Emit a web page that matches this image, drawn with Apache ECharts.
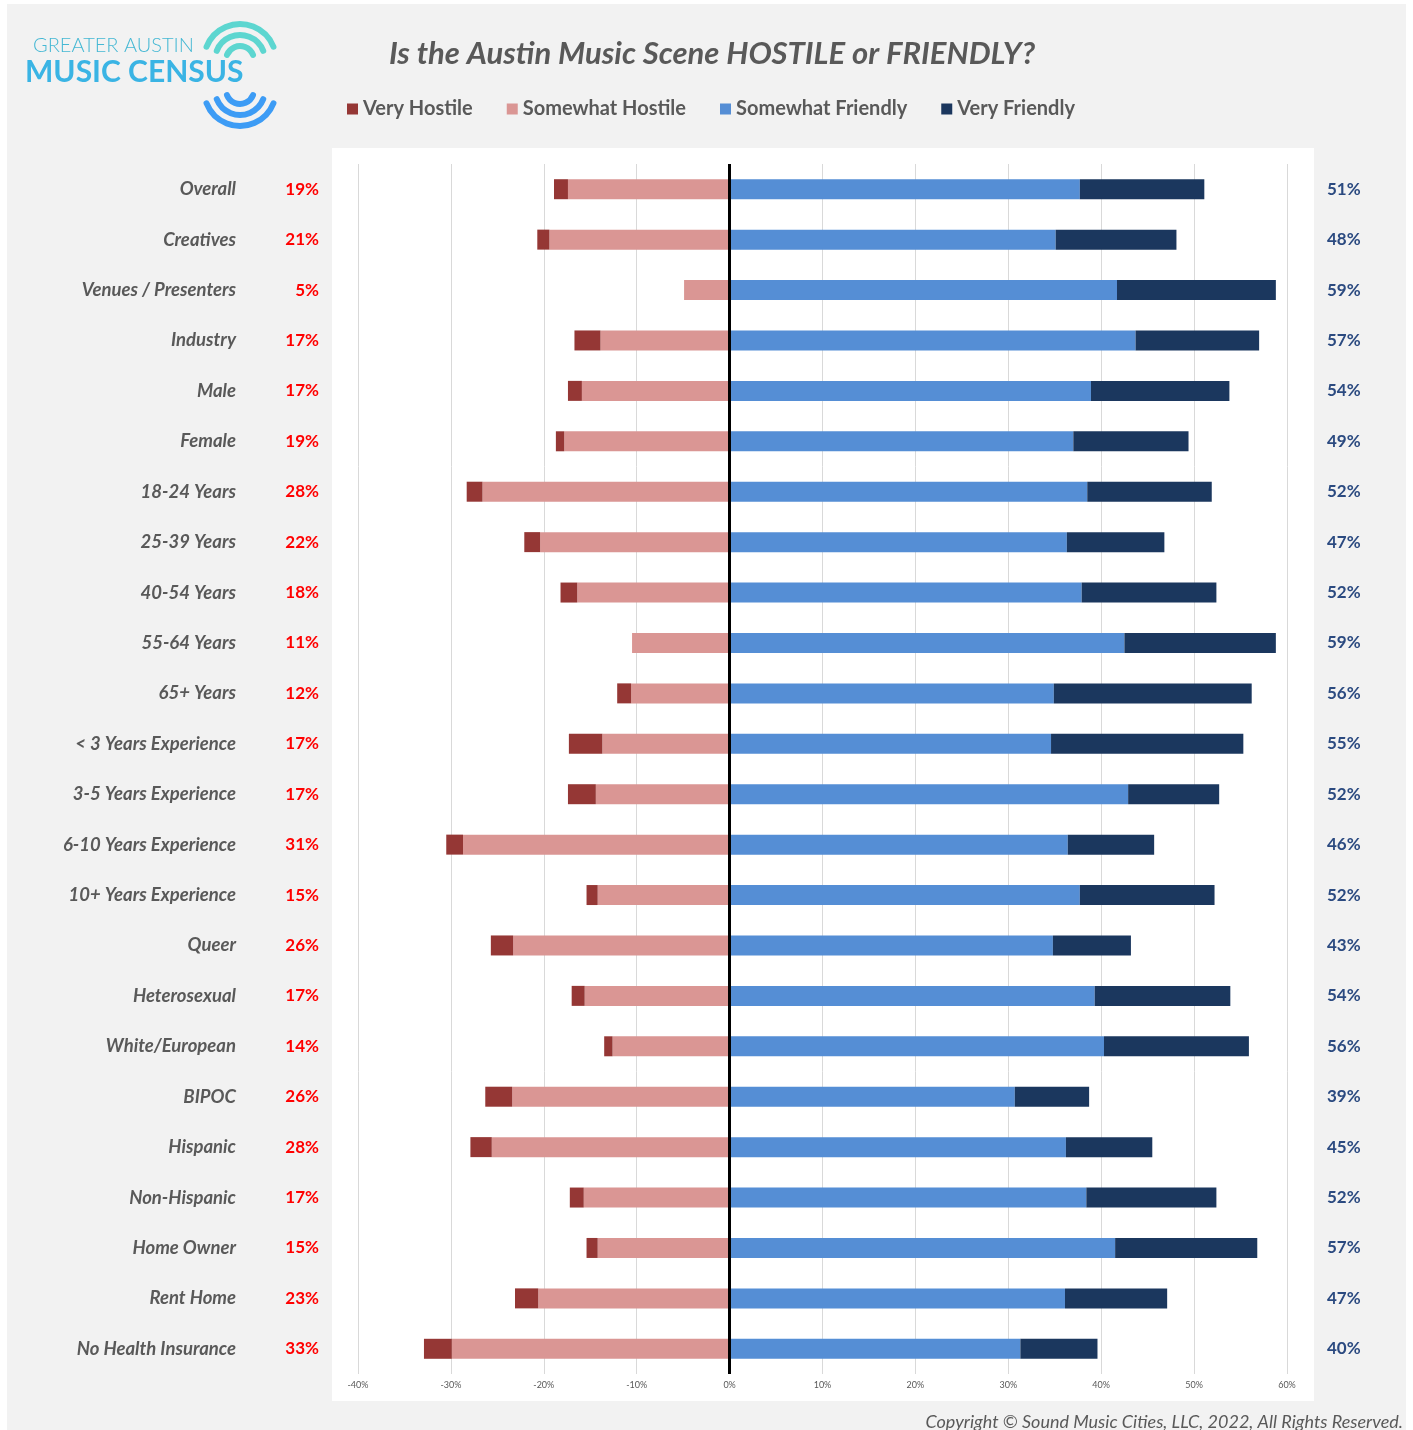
<!DOCTYPE html>
<html>
<head>
<meta charset="utf-8">
<script src="https://cdn.jsdelivr.net/npm/echarts@6/dist/echarts.min.js"></script>
<style>
  html, body { margin: 0; padding: 0; background: #fff; }
  #chart { width: 1413px; height: 1430px; }
</style>
</head>
<body>
<div id="chart"></div>
<script>
// 分类
const categories = ['Overall', 'Creatives', 'Venues / Presenters', 'Industry', 'Male', 'Female',
  '18-24 Years', '25-39 Years', '40-54 Years', '55-64 Years', '65+ Years',
  '< 3 Years Experience', '3-5 Years Experience', '6-10 Years Experience', '10+ Years Experience',
  'Queer', 'Heterosexual', 'White/European', 'BIPOC', 'Hispanic', 'Non-Hispanic',
  'Home Owner', 'Rent Home', 'No Health Insurance'];

// 各段百分比
const veryHostile = [1.5, 1.3, 0, 2.8, 1.5, 0.9, 1.7, 1.7, 1.8, 0, 1.5, 3.6, 3.0, 1.8, 1.2, 2.4, 1.4, 0.9, 2.9, 2.3, 1.5, 1.2, 2.5, 3.0];
const somewhatHostile = [17.4, 19.4, 4.9, 13.9, 15.9, 17.8, 26.6, 20.4, 16.4, 10.5, 10.6, 13.7, 14.4, 28.7, 14.2, 23.3, 15.6, 12.6, 23.4, 25.6, 15.7, 14.2, 20.6, 29.9];
const somewhatFriendly = [37.7, 35.1, 41.7, 43.7, 38.9, 37.0, 38.5, 36.3, 37.9, 42.5, 34.9, 34.6, 42.9, 36.4, 37.7, 34.8, 39.3, 40.3, 30.7, 36.2, 38.4, 41.5, 36.1, 31.3];
const veryFriendly = [13.4, 13.0, 17.1, 13.3, 14.9, 12.4, 13.4, 10.5, 14.5, 16.3, 21.3, 20.7, 9.8, 9.3, 14.5, 8.4, 14.6, 15.6, 8.0, 9.3, 14.0, 15.3, 11.0, 8.3];

// 两侧合计标签
const hostileTotal = [19, 21, 5, 17, 17, 19, 28, 22, 18, 11, 12, 17, 17, 31, 15, 26, 17, 14, 26, 28, 17, 15, 23, 33];
const friendlyTotal = [51, 48, 59, 57, 54, 49, 52, 47, 52, 59, 56, 55, 52, 46, 52, 43, 54, 56, 39, 45, 52, 57, 47, 40];

const xTicks = { min: -40, max: 60, interval: 10 };

const FONT = 'Lato, "Open Sans", sans-serif';
const GREY = '#595959';

let chart = echarts.init(document.getElementById('chart'));

// logo 的弧线
function arcs(cy, start, end, color) {
  return [14, 25, 36].map(r => ({
    type: 'arc',
    shape: { cx: 240, cy: cy, r: r, startAngle: start, endAngle: end },
    style: { stroke: color, lineWidth: 6, fill: null, lineCap: 'round' },
    z: 10
  }));
}

chart.setOption({
  animation: false,
  textStyle: { fontFamily: FONT },
  title: {
    text: 'Is the Austin Music Scene HOSTILE or FRIENDLY?',
    left: 707, top: 33, textAlign: 'center',
    textStyle: { fontSize: 31, fontWeight: 'bold', fontStyle: 'italic', color: GREY, fontFamily: FONT }
  },
  legend: {
    data: ['Very Hostile', 'Somewhat Hostile', 'Somewhat Friendly', 'Very Friendly'],
    left: 342, top: 94,
    icon: 'rect', itemWidth: 11, itemHeight: 11, itemGap: 34,
    textStyle: { fontSize: 20, fontWeight: 'bold', color: GREY, fontFamily: FONT }
  },
  graphic: [
    { type: 'rect', shape: { x: 7, y: 4, width: 1399, height: 1426 }, style: { fill: '#f2f2f2' }, z: -10 },
    { type: 'rect', shape: { x: 332, y: 148, width: 982, height: 1253 }, style: { fill: '#ffffff' }, z: -9 },
    { type: 'text', left: 33, top: 36, style: { text: 'GREATER AUSTIN', fill: '#45b8d4', font: '300 20px ' + FONT }, z: 10 },
    { type: 'text', left: 25, top: 57, style: { text: 'MUSIC CENSUS', fill: '#3ab4e4', font: 'bold 30px ' + FONT }, z: 10 },
    ...arcs(60, Math.PI * 1.12, Math.PI * 1.88, '#5dd6d0'),
    ...arcs(90, Math.PI * 0.12, Math.PI * 0.88, '#3d9cf5'),
    {
      type: 'text', right: 10, top: 1413,
      style: { text: 'Copyright © Sound Music Cities, LLC, 2022, All Rights Reserved.', fill: GREY, font: 'italic 18px ' + FONT }
    }
  ],
  grid: { left: 358, width: 929, top: 164, height: 1210, containLabel: false },
  xAxis: {
    type: 'value', min: xTicks.min, max: xTicks.max, interval: xTicks.interval,
    axisLine: { show: false }, axisTick: { show: false },
    axisLabel: { formatter: v => v + '%', fontSize: 9, color: GREY, margin: 7 },
    splitLine: { lineStyle: { color: '#d9d9d9', width: 1 } }
  },
  yAxis: [
    {
      type: 'category', data: categories, inverse: true,
      axisLine: { show: false }, axisTick: { show: false },
      axisLabel: {
        margin: 39,
        formatter: (v, i) => '{a|' + v + '}{b|' + hostileTotal[i] + '%}',
        rich: {
          a: { fontSize: 18.5, fontWeight: 'bold', fontStyle: 'italic', color: GREY, fontFamily: FONT },
          b: { fontSize: 17, fontWeight: 'bold', color: '#ff0000', width: 83, align: 'right', fontFamily: FONT }
        }
      }
    },
    {
      type: 'category', data: categories, inverse: true, position: 'right',
      axisLine: { show: false }, axisTick: { show: false },
      axisLabel: {
        margin: 40,
        formatter: (v, i) => friendlyTotal[i] + '%',
        fontSize: 17, fontWeight: 'bold', color: '#2b4a80'
      }
    }
  ],
  series: [
    {
      name: 'Somewhat Hostile', type: 'bar', stack: 'total', barWidth: 20,
      itemStyle: { color: '#da9694' },
      data: somewhatHostile.map(v => -v),
      markLine: {
        silent: true, symbol: 'none', label: { show: false },
        lineStyle: { color: '#000', width: 3, type: 'solid' },
        data: [{ xAxis: 0 }]
      }
    },
    {
      name: 'Very Hostile', type: 'bar', stack: 'total', barWidth: 20,
      itemStyle: { color: '#953735' },
      data: veryHostile.map(v => -v)
    },
    {
      name: 'Somewhat Friendly', type: 'bar', stack: 'total', barWidth: 20,
      itemStyle: { color: '#558ed5' },
      data: somewhatFriendly
    },
    {
      name: 'Very Friendly', type: 'bar', stack: 'total', barWidth: 20,
      itemStyle: { color: '#1b375e' },
      data: veryFriendly
    }
  ]
});
</script>
</body>
</html>
